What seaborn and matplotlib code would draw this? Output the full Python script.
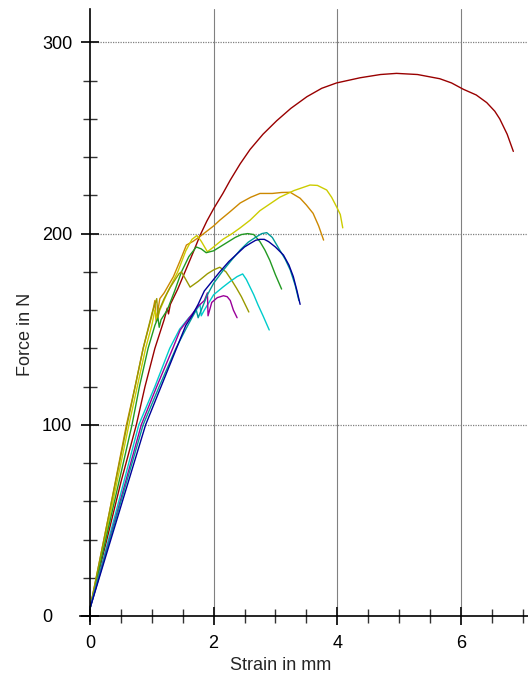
import matplotlib
matplotlib.use("Agg")
import matplotlib.pyplot as plt
from matplotlib.ticker import MultipleLocator, FixedLocator
import numpy as np
import pandas as pd
import seaborn as sns

# Force-strain curves of the tested specimens
specimens = ["P1", "P2", "P3", "P4", "P5", "P6", "P7", "P8", "P9"]
colors = ["#990000", "#CC8800", "#CCCC00", "#229922", "#999900",
          "#00CCCC", "#990099", "#009999", "#000099"]

p1_strain = [0, 0.25, 0.5, 0.75, 0.89, 1.05, 1.2, 1.25, 1.27, 1.3, 1.42, 1.55, 1.68, 1.78,
             1.89, 2.0, 2.15, 2.27, 2.43, 2.59, 2.8, 3.02, 3.25, 3.51, 3.75, 3.99, 4.37,
             4.7, 4.96, 5.3, 5.66, 5.85, 6.04, 6.25, 6.42, 6.55, 6.63, 6.75, 6.85]
p1_force = [4, 37, 70, 100, 120, 140, 155, 161, 158, 163, 171, 181, 191, 199,
            206.5, 213, 221, 228, 236.5, 244, 252, 259, 265.5, 271.6, 276, 278.8, 281.5,
            283.2, 283.8, 283.2, 281, 278.8, 275.5, 272.5, 268.5, 264, 260, 252, 243]

p2_strain = [0, 0.3, 0.59, 0.73, 0.86, 1.0, 1.05, 1.07, 1.1, 1.13, 1.2, 1.35, 1.46, 1.56,
             1.67, 1.8, 2.0, 2.1, 2.25, 2.43, 2.6, 2.75, 2.95, 3.1, 3.24, 3.4, 3.5, 3.61,
             3.7, 3.78]
p2_force = [4, 52, 100, 120, 140, 157, 165, 154, 160, 166, 169, 177.5, 186, 194,
            196, 199, 204, 207, 211, 216, 219, 221, 221, 221.5, 221.6, 218.5, 215, 210.6,
            204, 196.6]

p3_strain = [0, 0.32, 0.63, 0.9, 1.0, 1.05, 1.08, 1.13, 1.25, 1.42, 1.55, 1.65, 1.73, 1.8,
             1.9, 2.0, 2.15, 2.3, 2.43, 2.59, 2.75, 3.07, 3.3, 3.56, 3.68, 3.83, 3.91,
             3.99, 4.05, 4.09]
p3_force = [4, 52, 100, 140, 152, 160, 155, 160, 169, 180, 191, 197, 199, 196,
            190.5, 193, 197, 200, 203, 207, 212, 219, 222.5, 225.4, 225.2, 222.8, 219,
            214, 210, 203]

p4_strain = [0, 0.34, 0.68, 0.8, 0.94, 1.05, 1.1, 1.12, 1.15, 1.25, 1.37, 1.48, 1.6, 1.72,
             1.8, 1.88, 2.0, 2.1, 2.25, 2.35, 2.45, 2.55, 2.65, 2.75, 2.83, 2.91, 3.0, 3.1]
p4_force = [4, 52, 100, 120, 140, 152, 156, 151, 155, 160, 170, 180, 188, 193,
            192, 190, 191, 193, 196, 198, 199.5, 200, 199.5, 195.8, 191.4, 186, 178.5, 171]

p5_strain = [0, 0.3, 0.6, 0.86, 1.0, 1.08, 1.1, 1.12, 1.2, 1.3, 1.38, 1.44, 1.48, 1.55,
             1.62, 1.75, 1.9, 2.0, 2.1, 2.2, 2.29, 2.37, 2.45, 2.57]
p5_force = [4, 52, 100, 140, 158, 166, 156, 160, 166, 172, 176, 179, 180, 176,
            172, 175, 179, 181, 182.4, 180, 175.7, 171.5, 167, 159]

p6_strain = [0, 0.4, 0.79, 1.05, 1.29, 1.45, 1.6, 1.72, 1.78, 1.8, 1.85, 2.0, 2.15, 2.27,
             2.38, 2.47, 2.53, 2.59, 2.65, 2.72, 2.8, 2.9]
p6_force = [4, 52, 100, 120, 140, 150, 156, 160, 163, 157, 160, 168, 172, 175,
            177.5, 178.9, 176, 172, 168, 162.6, 157, 149.6]

p7_strain = [0, 0.42, 0.83, 1.08, 1.34, 1.46, 1.62, 1.75, 1.85, 1.9, 1.91, 1.97, 2.06,
             2.16, 2.22, 2.27, 2.32, 2.38]
p7_force = [4, 52, 100, 120, 140, 149.6, 156.5, 162, 165, 169, 157, 164, 166.5,
            167.5, 167, 165, 160, 156]

p8_strain = [0, 0.43, 0.86, 1.12, 1.39, 1.55, 1.65, 1.72, 1.75, 1.8, 1.9, 2.0, 2.16, 2.3,
             2.43, 2.56, 2.7, 2.78, 2.86, 2.95, 3.07, 3.16, 3.24, 3.32, 3.38]
p8_force = [4, 52, 100, 120, 140, 150, 156, 160, 156, 160, 168, 174, 181, 186.5,
            191.4, 195.5, 198.5, 200, 200.5, 198, 191.4, 186.5, 181, 173, 165]

p9_strain = [0, 0.45, 0.9, 1.15, 1.4, 1.55, 1.65, 1.75, 1.85, 2.0, 2.1, 2.25, 2.4, 2.5,
             2.6, 2.68, 2.75, 2.82, 2.89, 3.0, 3.13, 3.22, 3.29, 3.35, 3.40]
p9_force = [4, 52, 100, 120, 140, 152, 157, 163, 170, 176, 180, 185.5, 190, 193,
            195, 196.5, 197, 197, 195.8, 193, 188.8, 183.5, 177.5, 170, 163]

x_major = [0, 2, 4, 6]
y_major = [0, 100, 200, 300]
x_tick_labels = ["0", "2", "4", "6"]
y_tick_labels = ["0", "100", "200", "300"]

curves = [(p1_strain, p1_force), (p2_strain, p2_force), (p3_strain, p3_force),
          (p4_strain, p4_force), (p5_strain, p5_force), (p6_strain, p6_force),
          (p7_strain, p7_force), (p8_strain, p8_force), (p9_strain, p9_force)]

frames = []
for name, (xs, ys) in zip(specimens, curves):
    frames.append(pd.DataFrame({"strain": xs, "force": ys, "specimen": name}))
df = pd.concat(frames, ignore_index=True)

sns.set_style("white")
plt.rcParams["font.family"] = ["Liberation Sans", "DejaVu Sans"]
plt.rcParams["font.size"] = 13

fig = plt.figure(figsize=(5.28, 6.78), dpi=100)
ax = fig.add_axes([80 / 528, 57 / 678, 448 / 528, 612 / 678])

sns.lineplot(data=df, x="strain", y="force", hue="specimen", units="specimen",
             palette=dict(zip(specimens, colors)), estimator=None, sort=False,
             legend=False, linewidth=1.0, ax=ax)

ax.set_xlim(-10 / 61.8, 438 / 61.8)
ax.set_ylim(-5 / 1.912, 607 / 1.912)

for side in ["top", "right"]:
    ax.spines[side].set_visible(False)
ax.spines["left"].set_position(("data", 0))
ax.spines["bottom"].set_position(("data", 0))
for side in ["left", "bottom"]:
    ax.spines[side].set_color("black")
    ax.spines[side].set_linewidth(1.2)

ax.xaxis.set_major_locator(FixedLocator(x_major))
ax.yaxis.set_major_locator(FixedLocator(y_major))
ax.xaxis.set_minor_locator(MultipleLocator(0.5))
ax.yaxis.set_minor_locator(MultipleLocator(20))
ax.set_xticklabels(x_tick_labels)
ax.set_yticklabels(y_tick_labels)

ax.tick_params(axis="both", which="both", bottom=True, left=True, top=False, right=False)
ax.tick_params(axis="both", which="major", direction="inout", length=13, width=1.4,
               color="#222222", labelsize=13, labelcolor="black")
ax.tick_params(axis="both", which="minor", direction="inout", length=10, width=1.0,
               color="#333333")
ax.tick_params(axis="x", which="major", pad=7)
ax.tick_params(axis="y", which="major", pad=28)
for lab in ax.get_yticklabels():
    lab.set_horizontalalignment("left")

# grid: dotted horizontal lines, solid vertical lines
for yv in y_major[1:]:
    ax.axhline(yv, xmin=(0 + 10 / 61.8) / (448 / 61.8), color="#808080",
               linestyle=(0, (1, 1)), linewidth=0.9, zorder=0)
for xv in x_major[1:]:
    ax.axvline(xv, ymin=(5 / 1.912) / (612 / 1.912), color="#808080",
               linestyle="-", linewidth=0.8, zorder=0)

ax.set_xlabel("")
ax.set_ylabel("")
fig.text(281 / 528, 1 - 665 / 678, "Strain in mm", ha="center", va="center", fontsize=13)
fig.text(25 / 528, 1 - 334 / 678, "Force in N", ha="center", va="center",
         rotation=90, fontsize=13)

fig.savefig("out.png", dpi=100)
